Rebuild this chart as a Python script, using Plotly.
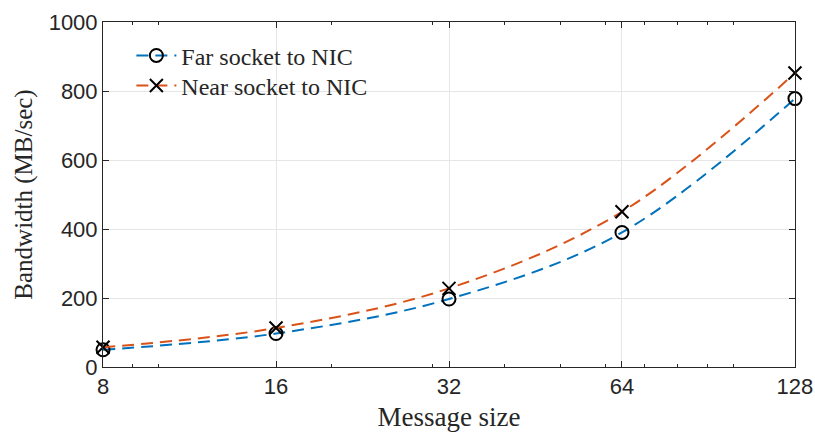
import plotly.graph_objects as go

sizes = [8, 16, 32, 64, 128]
far_bw = [50, 97, 197, 390, 778]
near_bw = [57, 113, 228, 450, 852]
x_ticks = [8, 16, 32, 64, 128]
y_ticks = [0, 200, 400, 600, 800, 1000]

fig = go.Figure()
fig.add_trace(go.Scatter(
    x=sizes, y=far_bw, name="Far socket to NIC", mode="lines+markers",
    line=dict(color="#0072BD", width=2, dash="12px,7px", shape="spline"),
    marker=dict(symbol="circle-open", size=13, color="black", line=dict(width=2, color="black")),
    cliponaxis=False, legend="legend",
))
fig.add_trace(go.Scatter(
    x=sizes, y=near_bw, name="Near socket to NIC", mode="lines+markers",
    line=dict(color="#D95319", width=2, dash="12px,7px", shape="spline"),
    marker=dict(symbol="x-thin-open", size=13, color="black", line=dict(width=2, color="black")),
    cliponaxis=False, legend="legend2",
))

axis_common = dict(
    showline=True, linecolor="#262626", linewidth=1, mirror="ticks",
    ticks="inside", ticklen=6, tickcolor="#262626",
    showgrid=True, gridcolor="#e6e6e6", gridwidth=1,
    zeroline=False, automargin=False,
    tickfont=dict(family="Liberation Sans, Arial", size=22, color="#262626"),
)

legend_common = dict(
    xanchor="left", yanchor="top",
    bgcolor="rgba(255,255,255,0)", borderwidth=0,
    font=dict(family="Liberation Serif, Times New Roman", size=24, color="#262626"),
    itemwidth=40,
)

fig.update_layout(
    width=815, height=436,
    margin=dict(l=103, r=20, t=22, b=69),
    paper_bgcolor="white", plot_bgcolor="white",
    xaxis=dict(
        type="log", range=[0.9030, 2.1073],
        tickmode="array", tickvals=x_ticks, ticktext=[str(v) for v in x_ticks],
        minor=dict(ticks="inside", ticklen=3, dtick="D1", tickcolor="#262626", showgrid=False),
        title=dict(text="Message size", font=dict(family="Liberation Serif, Times New Roman", size=27, color="#262626"), standoff=8),
        **axis_common,
    ),
    yaxis=dict(
        range=[0, 1000], tickmode="array", tickvals=y_ticks,
        title=dict(text="Bandwidth (MB/sec)", font=dict(family="Liberation Serif, Times New Roman", size=25, color="#262626"), standoff=8),
        **axis_common,
    ),
    legend=dict(x=0.041, y=0.967, **legend_common),
    legend2=dict(x=0.041, y=0.880, **legend_common),
    showlegend=True,
)

fig.write_html("out.html")
